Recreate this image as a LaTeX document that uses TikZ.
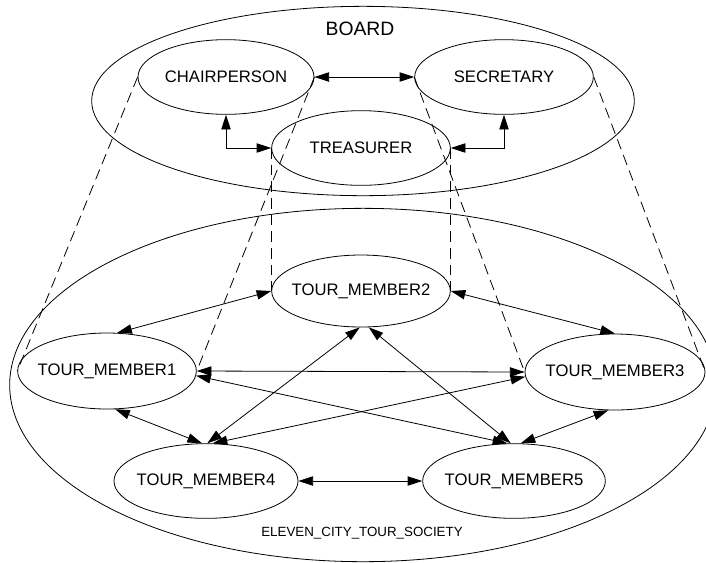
\documentclass[tikz,border=0pt]{standalone}
\usepackage{fontspec}
\setmainfont{Liberation Sans}
\usetikzlibrary{arrows.meta,shapes.geometric}

\tikzset{
  member/.style={draw, ellipse, inner xsep=-30pt, inner ysep=0pt, line width=0.6pt,
    minimum width=134pt, minimum height=56pt, font=\fontsize{12.5}{15}\selectfont},
  group/.style={draw, ellipse, inner sep=0pt, line width=0.6pt},
  both/.style={line width=0.6pt, {Triangle[length=11pt,width=7pt]}-{Triangle[length=11pt,width=7pt]}},
  proj/.style={line width=0.6pt, dash pattern={on 8pt off 4.5pt}}
}

\begin{document}
\begin{tikzpicture}[x=0.75pt,y=0.75pt,yscale=-1,xscale=1]
	\useasboundingbox (0,0) rectangle (706,562);
	
	%Shape: Ellipse [board]
	\node [group, minimum width=407pt, minimum height=142pt] (board) at (363,101) {};
	%Shape: Ellipse [society]
	\node [group, minimum width=530pt, minimum height=265pt] (society) at (363,385) {};
	
	% Text Node
	\node [font=\fontsize{14.5}{17}\selectfont] (boardlbl) at (360,29) {BOARD};
	% Text Node
	\node [font=\fontsize{10}{12}\selectfont] (soclbl) at (362,533) {ELEVEN\_CITY\_TOUR\_SOCIETY};
	
	% Board members
	\node [member, minimum width=132pt] (chair) at (226,77) {CHAIRPERSON};
	\node [member] (sec) at (504,77) {SECRETARY};
	\node [member] (treas) at (361,148) {TREASURER};
	
	% Tour members
	\node [member, minimum height=54pt] (tm2) at (361,291) {TOUR\_MEMBER2};
	\node [member, minimum height=57pt] (tm1) at (107,371) {TOUR\_MEMBER1};
	\node [member, minimum width=135pt, minimum height=57pt] (tm3) at (615,372) {TOUR\_MEMBER3};
	\node [member, minimum width=138pt] (tm4) at (206,481) {TOUR\_MEMBER4};
	\node [member, minimum width=137pt] (tm5) at (514,481) {TOUR\_MEMBER5};
	
	%Straight Lines [projections]
	\draw [proj] (chair.west) -- (tm1.west);
	\draw [proj] (chair.east) -- (tm1.east);
	\draw [proj] (treas.west) -- (tm2.west);
	\draw [proj] (treas.east) -- (tm2.east);
	\draw [proj] (sec.west) -- (tm3.west);
	\draw [proj] (sec.east) -- (tm3.east);
	
	%Connectors [board]
	\draw [both] (chair.east) -- (sec.west);
	\draw [both] (chair.south) |- (treas.west);
	\draw [both] (sec.south) |- (treas.east);
	
	%Connectors [society]
	\draw [both] (tm1.75) -- (tm2.west);
	\draw [both] (tm2.east) -- (tm3.north);
	\draw [both] (tm1.east) -- (tm3.west);
	\draw [both] (tm1.-3) -- (tm5.100);
	\draw [both] (tm3.183) -- (tm4.80);
	\draw [both] (tm2.268) -- (tm4.88);
	\draw [both] (tm2.282) -- (tm5.95);
	\draw [both] (tm1.-78) -- (tm4.96);
	\draw [both] (tm3.-100) -- (tm5.80);
	\draw [both] (tm4.east) -- (tm5.west);
	
\end{tikzpicture}
\end{document}
